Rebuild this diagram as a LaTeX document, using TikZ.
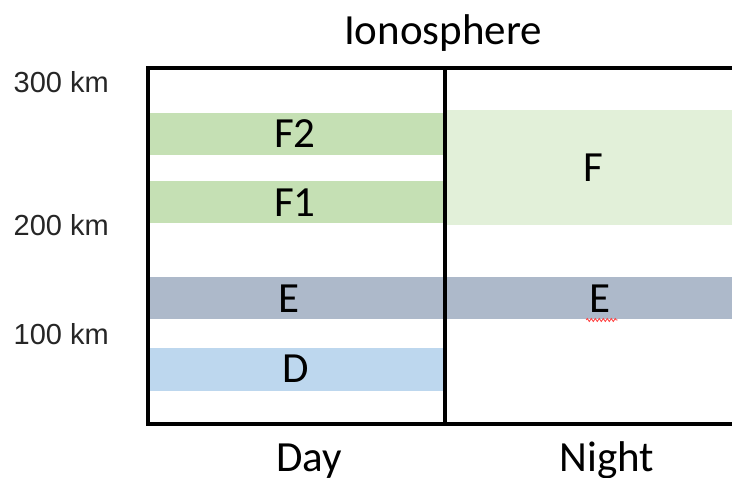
\documentclass[tikz,border=0pt]{standalone}
\usepackage{fontspec}
\setmainfont{Carlito}
\newfontfamily\arialfont{Liberation Sans}
\usepackage{xcolor}
\usetikzlibrary{positioning,calc,decorations.pathmorphing}
\definecolor{fcolor}{RGB}{197,224,180}
\definecolor{fnightcolor}{RGB}{226,240,217}
\definecolor{ecolor}{RGB}{173,185,202}
\definecolor{dcolor}{RGB}{189,215,238}

\begin{document}
\begin{tikzpicture}[
    x=1pt, y=-1pt,
    layer/.style={
        anchor=base, inner sep=0pt,
        font=\fontsize{43}{50}\selectfont
    },
    height/.style={
        anchor=base east, inner sep=0pt,
        font=\arialfont\fontsize{29}{34}\selectfont, text=black!85
    },
    frame/.style={line width=4.5pt, line cap=rect}
]
\clip (0,0) rectangle (732,478);
\fill[white] (0,0) rectangle (732,478);

% Bands, day side
\fill[fcolor] (150,113) rectangle (443,155);
\fill[fcolor] (150,181) rectangle (443,223);
\fill[ecolor] (150,277) rectangle (443,319);
\fill[dcolor] (150,348) rectangle (443,391);

% Bands, night side
\fill[fnightcolor] (447,110) rectangle (740,225);
\fill[ecolor] (447,277) rectangle (740,319);

% Frame
\draw[frame] (745,68) -- (148,68) -- (148,424) -- (745,424);
\draw[frame] (445,68) -- (445,424);

% Title and columns
\node[layer] (title) at (443,45) {Ionosphere};
\node[layer] (day) at (309,472) {Day};
\node[layer] (night) at (607,472) {Night};

% Heights
\node[height] (h300) at (109,93) {300 km};
\node[height] (h200) at (109,236) {200 km};
\node[height] (h100) at (109,345) {100 km};

% Layer labels
\node[layer] (dayF2) at (295,148) {F2};
\node[layer] (dayF1) at (295,217) {F1};
\node[layer] (dayE) at (289,313) {E};
\node[layer] (dayD) at (296,383) {D};
\node[layer] (nightF) at (593,182) {F};
\node[layer] (nightE) at (600,313) {E};

% Spelling mark
\draw[red!75, line width=0.8pt, decorate,
      decoration={zigzag, segment length=4pt, amplitude=1.5pt}]
    ($(nightE.base west)+(-3,7)$) -- ($(nightE.base east)+(7,7)$);
\end{tikzpicture}
\end{document}
